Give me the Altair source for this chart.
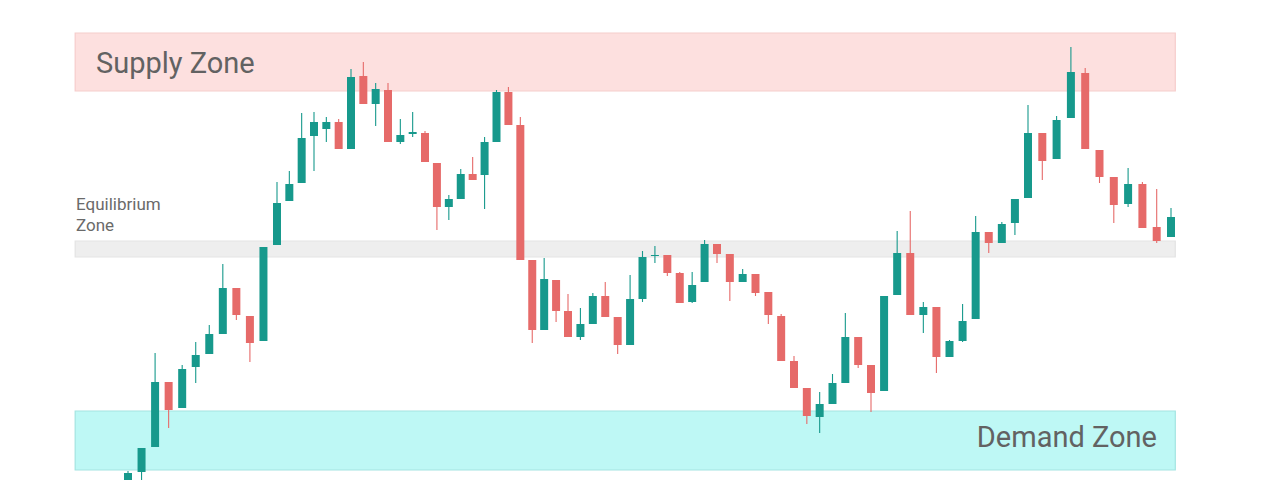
import altair as alt
import pandas as pd

# Candle OHLC values (price units), candles 1..82
opens = [-7, 16, 41, 106, 80, 121, 134, 154, 200, 172, 147, 243, 287, 305, 352, 359, 366, 339, 412, 384,
         398, 346, 354, 355, 325, 281, 289, 314, 313, 346, 396, 363, 228, 158, 208, 177, 151, 164, 192, 171,
         143, 189, 232, 233, 215, 186, 206, 244, 234, 206, 214, 196, 172, 127, 100, 71, 84, 105, 151, 123,
         97, 193, 235, 173, 181, 131, 147, 169, 256, 245, 265, 290, 355, 329, 370, 415, 338, 311, 284, 304,
         261, 251]
highs = [17, 40, 135, 106, 123, 146, 163, 224, 200, 172, 241, 306, 317, 375, 376, 371, 369, 419, 426, 405,
         405, 369, 376, 357, 325, 293, 319, 331, 351, 398, 401, 371, 228, 230, 208, 194, 180, 195, 206, 171,
         213, 237, 242, 233, 216, 216, 248, 244, 234, 219, 214, 196, 174, 132, 100, 96, 114, 175, 151, 123,
         192, 257, 277, 186, 181, 148, 184, 272, 256, 266, 289, 383, 355, 372, 441, 420, 338, 311, 320, 306,
         299, 280]
lows = [-12, 5, 41, 60, 80, 105, 134, 154, 168, 126, 147, 243, 287, 305, 317, 346, 339, 339, 384, 362,
        346, 344, 351, 326, 258, 268, 289, 308, 279, 346, 363, 228, 145, 158, 166, 151, 148, 164, 171, 134,
        143, 186, 225, 212, 185, 185, 206, 225, 187, 206, 192, 164, 127, 100, 64, 55, 84, 105, 120, 76,
        97, 193, 173, 155, 115, 131, 146, 169, 235, 245, 253, 290, 308, 329, 370, 339, 305, 265, 281, 260,
        245, 251]
closes = [15, 40, 106, 78, 119, 133, 154, 200, 173, 145, 241, 285, 304, 350, 366, 366, 339, 411, 384, 399,
          346, 353, 356, 326, 281, 289, 314, 308, 346, 396, 363, 228, 158, 209, 177, 151, 164, 192, 171, 143,
          189, 231, 233, 215, 185, 203, 244, 234, 206, 214, 195, 173, 127, 100, 72, 84, 105, 151, 123, 95,
          192, 235, 173, 181, 131, 147, 167, 256, 245, 264, 289, 355, 327, 368, 416, 339, 311, 283, 304, 260,
          247, 271]

# Zones (price ranges) and their horizontal extent in candle index units
zone_names = ["Supply", "Equilibrium", "Demand"]
zone_low = [397, 231, 18]
zone_high = [455, 247, 77]
zone_start = [-2.9, -2.9, -2.9]
zone_end = [82.3, 82.3, 82.3]

UP = "#17998c"
DOWN = "#e66a69"

candles = pd.DataFrame({
    "i": list(range(1, len(opens) + 1)),
    "open": opens, "high": highs, "low": lows, "close": closes,
})
candles["dir"] = ["up" if c >= o else "down" for o, c in zip(opens, closes)]

zones = pd.DataFrame({"zone": zone_names, "lo": zone_low, "hi": zone_high,
                      "x0": zone_start, "x1": zone_end})

xscale = alt.Scale(domain=[1, 12, 24, 36, 48, 60, 72, 82],
                   range=[120, 269, 417, 560, 709, 863, 1020, 1163],
                   zero=False, nice=False, padding=0)
yscale = alt.Scale(domain=[8, 480], zero=False, nice=False, padding=0)
color = alt.Color("dir:N", scale=alt.Scale(domain=["up", "down"], range=[UP, DOWN]), legend=None)

zone_rect = alt.Chart(zones).mark_rect(strokeWidth=1.2).encode(
    x=alt.X("x0:Q", scale=xscale, axis=None),
    x2="x1:Q",
    y=alt.Y("lo:Q", scale=yscale, axis=None),
    y2="hi:Q",
    fill=alt.Fill("zone:N", scale=alt.Scale(domain=zone_names,
                                             range=["#fde0df", "#eeeeee", "#bef8f5"]), legend=None),
    stroke=alt.Stroke("zone:N", scale=alt.Scale(domain=zone_names,
                                                 range=["#f6cdcc", "#e3e3e3", "#a3e4e1"]), legend=None),
)

wicks = alt.Chart(candles).mark_rule(strokeWidth=1.1, clip=True).encode(
    x=alt.X("i:Q", scale=xscale, axis=None),
    y=alt.Y("low:Q", scale=yscale, axis=None),
    y2="high:Q",
    color=color,
)

bodies = alt.Chart(candles).mark_bar(size=8, clip=True, cornerRadius=0).encode(
    x=alt.X("i:Q", scale=xscale, axis=None),
    y=alt.Y("open:Q", scale=yscale, axis=None),
    y2="close:Q",
    color=color,
)

one = pd.DataFrame({"k": [0]})
supply_lbl = alt.Chart(one).mark_text(
    text="Supply Zone", font="Roboto", fontSize=29, color="#626262",
    align="left", baseline="alphabetic"
).encode(x=alt.value(88), y=alt.value(65))

demand_lbl = alt.Chart(one).mark_text(
    text="Demand Zone", font="Roboto", fontSize=29, color="#626262",
    align="right", baseline="alphabetic"
).encode(x=alt.value(1149), y=alt.value(439))

eq_lbl = alt.Chart(one).mark_text(
    text=["Equilibrium", "Zone"], font="Roboto", fontSize=17, color="#6a6a6a",
    align="left", baseline="alphabetic", lineHeight=21
).encode(x=alt.value(68), y=alt.value(202))

chart = alt.layer(zone_rect, wicks, bodies, supply_lbl, demand_lbl, eq_lbl).properties(
    width=1264, height=472, autosize=alt.AutoSizeParams(type="none"), padding=0,
    background="white",
).configure_view(stroke=None)

chart.save("out.html", embed_options={"renderer": "svg", "actions": False})
